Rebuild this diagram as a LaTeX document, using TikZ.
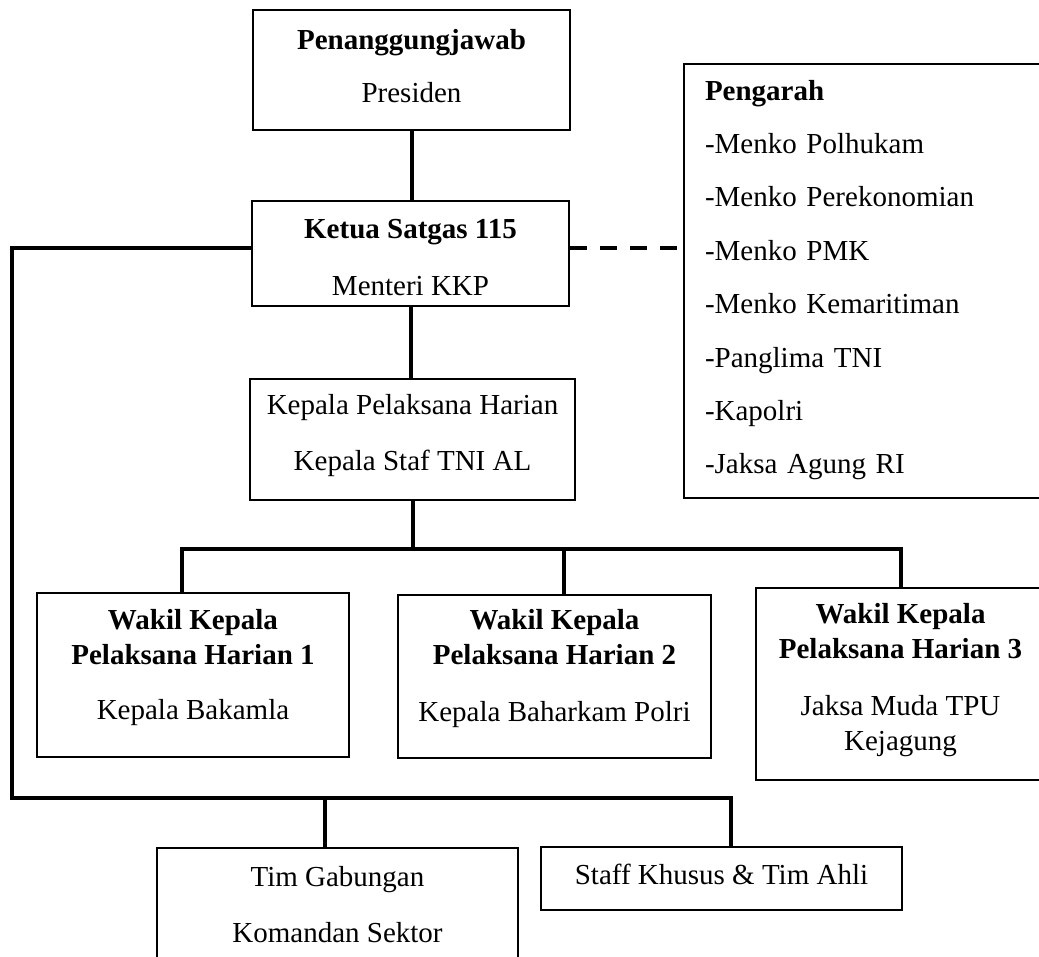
\documentclass[tikz,border=0pt]{standalone}
\usepackage{fontspec}
\setmainfont{Liberation Serif}
\tikzset{
  box/.style={draw, line width=2.8pt, inner sep=0pt},
  txt/.style={align=center, font=\fontsize{29}{35}\selectfont, inner sep=0pt},
  conn/.style={line width=4pt},
  dashconn/.style={line width=4pt, dash pattern=on 17pt off 13pt},
}
\begin{document}
\begin{tikzpicture}[x=1pt, y=-1pt]
\useasboundingbox (0,0) rectangle (1039,957);
\clip (0,0) rectangle (1039,957);
\node[box, minimum width=317pt, minimum height=120pt,
  label={[txt, yshift=4.4pt]center:{\textbf{Penanggungjawab}\\[18pt]Presiden}}] (pj) at (411.5,70) {};
\node[box, minimum width=317pt, minimum height=105pt,
  label={[txt, yshift=-4pt]center:{\textbf{Ketua Satgas 115}\\[22pt]Menteri KKP}}] (ketua) at (410.5,253.5) {};
\node[box, minimum width=325pt, minimum height=121pt,
  label={[txt, yshift=3.5pt]center:{Kepala Pelaksana Harian\\[21pt]Kepala Staf TNI AL}}] (kph) at (412.5,439.5) {};
\node[box, minimum width=386pt, minimum height=434pt,
  label={[txt, align=left, text width=344pt, yshift=1pt, font=\fontsize{29}{53.4}\selectfont]center:{\textbf{Pengarah}\\-Menko Polhukam\\-Menko Perekonomian\\-Menko PMK\\-Menko Kemaritiman\\-Panglima TNI\\-Kapolri\\-Jaksa Agung RI}}] (peng) at (877,281) {};
\node[box, minimum width=312pt, minimum height=164pt,
  label={[txt, yshift=7pt]center:{\textbf{Wakil Kepala}\\\textbf{Pelaksana Harian 1}\\[20pt]Kepala Bakamla}}] (w1) at (193,675) {};
\node[box, minimum width=313pt, minimum height=163pt,
  label={[txt, yshift=7.5pt]center:{\textbf{Wakil Kepala}\\\textbf{Pelaksana Harian 2}\\[22pt]Kepala Baharkam Polri}}] (w2) at (554.5,676.5) {};
\node[box, minimum width=289pt, minimum height=192pt,
  label={[txt, yshift=4.4pt]center:{\textbf{Wakil Kepala}\\\textbf{Pelaksana Harian 3}\\[22pt]Jaksa Muda TPU\\Kejagung}}] (w3) at (900.5,684) {};
\node[box, minimum width=361pt, minimum height=114pt,
  label={[txt]center:{Tim Gabungan\\[21pt]Komandan Sektor}}] (tim) at (337.5,905) {};
\node[box, minimum width=361pt, minimum height=63pt,
  label={[txt, yshift=4.5pt]center:{Staff Khusus \& Tim Ahli}}] (staff) at (721.5,878.5) {};
\coordinate (barL) at (182,549);
\coordinate (barM) at (564,549);
\coordinate (barR) at (901,549);
\coordinate (cl) at (12,798);
\coordinate (cr) at (731,798);
\coordinate (ct) at (325,798);
\draw[conn] (pj.south) -- (pj.south |- ketua.north);
\draw[conn] (ketua.south) -- (ketua.south |- kph.north);
\draw[conn] (kph.south) -- (kph.south |- barL);
\draw[conn] (barL |- w1.north) -- (barL) -- (barR) -- (barR |- w3.north);
\draw[conn] (barM) -- (barM |- w2.north);
\draw[conn] ([yshift=5.5pt]ketua.west) -| (cl) -- (cr) -- (cr |- staff.north);
\draw[conn] (ct) -- (ct |- tim.north);
\draw[dashconn] ([yshift=5.5pt]ketua.east) -- ([yshift=5.5pt]ketua.east -| peng.west);
\end{tikzpicture}
\end{document}
